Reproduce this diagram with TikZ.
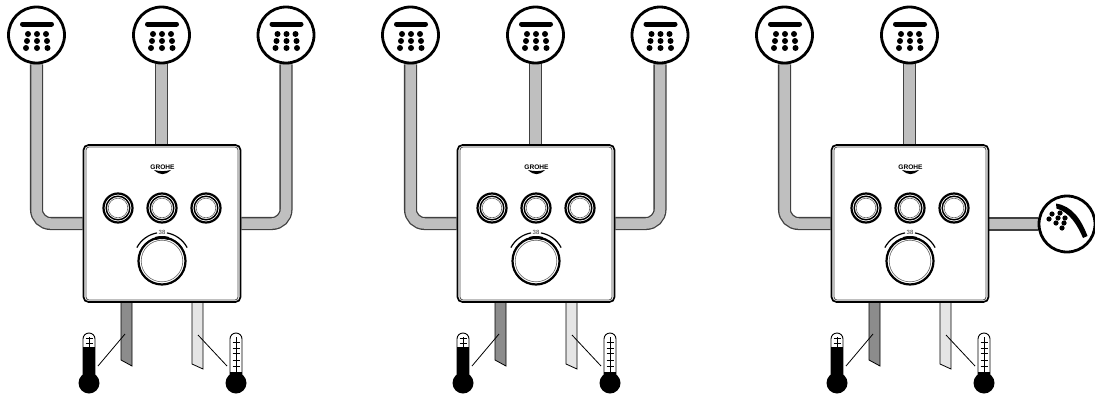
\documentclass[tikz,border=0pt]{standalone}
\usepackage{fontspec}
\setmainfont{Liberation Sans}
\usetikzlibrary{backgrounds}

\tikzset{
  headring/.style={circle, draw=black, fill=white, line width=2.8pt, inner sep=0pt, minimum size=56pt},
  pipeline/.style={draw=black!75, line width=1.3pt, double=black!25, double distance=10.5pt, rounded corners=14pt},
  hotpipe/.style={draw=black, line width=0.8pt, fill=black!45},
  coldpipe/.style={draw=black, line width=0.8pt, fill=black!10},
  plate/.style={rectangle, draw=black, fill=white, line width=1.7pt, rounded corners=5pt, inner sep=0pt, minimum size=157pt},
  button/.style={circle, draw=black, fill=white, line width=2.2pt, inner sep=0pt, minimum size=29pt},
  knob/.style={circle, draw=black, fill=white, line width=2.2pt, inner sep=0pt, minimum size=47pt},
  leader/.style={draw=black, line width=0.8pt},
  pics/spray/.style={code={
    \draw[line width=5pt, line cap=round] (-14,11) -- (15,11);
    \foreach \dx/\dy in {-8.5/1,0.5/1,9.5/1,-9.5/-6,0.5/-6,10.5/-6,-10.5/-13,0.5/-13,11/-13}
      \fill (\dx,\dy) circle (3);
  }},
  pics/handspray/.style={code={
    \fill (-11,20.5) .. controls (5,18) and (14,5) .. (20.5,-12) -- (16,-14)
      .. controls (10,0) and (2,12) .. (-10.5,15.5) -- cycle;
    \foreach \dx/\dy in {-18/5,-11/1,-5/-4,-15/10,-9/6,-3/1,-7/11,-2/6}
      \fill (\dx,\dy) circle (2.6);
  }},
  pics/thermo/.style 2 args={code={
    \draw[line width=0.9pt, fill=white] (-6,0) -- (-6,44) arc (180:0:6) -- (6,0) -- cycle;
    \fill (-6,0) rectangle (6,#1);
    \fill (0,0) circle (10.5);
    \draw[line width=0.7pt] (0,#1) -- (0,46);
    \foreach \t in {#2}
      \draw[line width=0.7pt] (-3.5,\t) -- (3.5,\t);
  }}
}

\begin{document}
\begin{tikzpicture}[x=1pt,y=1pt]
\useasboundingbox (0,0) rectangle (1095,-394);

\foreach \n/\px in {1/0,2/374,3/748} {
\begin{scope}[xshift=\px pt]
  \node[plate] (panel\n) at (162,-223.5) {};
  \draw[black!70, line width=0.8pt, rounded corners=3pt] (86,-147) rectangle (238,-300);
  \node[headring] (heada\n) at (36.5,-35) {};
  \node[headring] (headb\n) at (161.5,-35) {};
  \pic at (heada\n) {spray};
  \pic at (headb\n) {spray};

  % right outlet
  \ifnum\n=3
    \node[headring] (headc\n) at (319,-224) {};
    \pic at (headc\n) {handspray};
    \begin{pgfonlayer}{background}
      \draw[pipeline] (panel\n.east |- headc\n) -- (headc\n);
    \end{pgfonlayer}
  \else
    \node[headring] (headc\n) at (286,-35) {};
    \pic at (headc\n) {spray};
    \begin{pgfonlayer}{background}
      \draw[pipeline] (headc\n.south) |- (panel\n.east);
    \end{pgfonlayer}
  \fi

  \begin{pgfonlayer}{background}
    \draw[pipeline] (heada\n.south) |- (panel\n.west);
    \draw[pipeline] (headb\n) -- (headb\n |- panel\n.north);
    \draw[hotpipe] (121,-300) -- (121,-360) -- (132,-366) -- (132,-300) -- cycle;
    \draw[coldpipe] (192,-300) -- (192,-364) -- (203,-369) -- (203,-300) -- cycle;
  \end{pgfonlayer}

  % buttons and knob
  \foreach \name/\bx in {a/118,b/162,c/206} {
    \node[button] (button\name\n) at (\bx,-208) {};
    \draw[line width=1.4pt] (button\name\n) circle (11.8);
    \draw[black!60, line width=0.6pt] (button\name\n) circle (9.8);
  }
  \node[knob] (knob\n) at (162,-261) {};
  \draw[black!60, line width=0.6pt] (knob\n) circle (20.8);
  \draw[line width=3pt] (knob\n) ++(107:23.5) arc (107:73:23.5);
  \draw[line width=1.2pt] (knob\n) ++(152:28.5) arc (152:100:28.5);
  \draw[line width=1.2pt] (knob\n) ++(80:28.5) arc (80:28:28.5);
  \node[font=\fontsize{6}{6}\selectfont, inner sep=0.5pt, fill=white, text=black!80] (temp\n) at (162,-232) {38};

  % logo
  \node[font=\fontsize{6.6}{6.6}\selectfont\bfseries, inner sep=0pt] (logo\n) at (162.5,-167) {GROHE};
  \fill (154,-170) .. controls (160,-175.5) and (165,-175.5) .. (171,-170)
    .. controls (165,-171.5) and (160,-171.5) .. cycle;

  % thermometers
  \pic at (89,-383) {thermo={36}{40,45}};
  \pic at (236,-383) {thermo={11}{17,23,30,35,41}};
  \coordinate (hotlead\n) at (98,-366);
  \coordinate (hotend\n) at (125,-334);
  \coordinate (coldlead\n) at (227,-366);
  \coordinate (coldend\n) at (198,-335);
  \draw[leader] (hotlead\n) -- (hotend\n);
  \draw[leader] (coldlead\n) -- (coldend\n);
\end{scope}
}
\end{tikzpicture}
\end{document}
